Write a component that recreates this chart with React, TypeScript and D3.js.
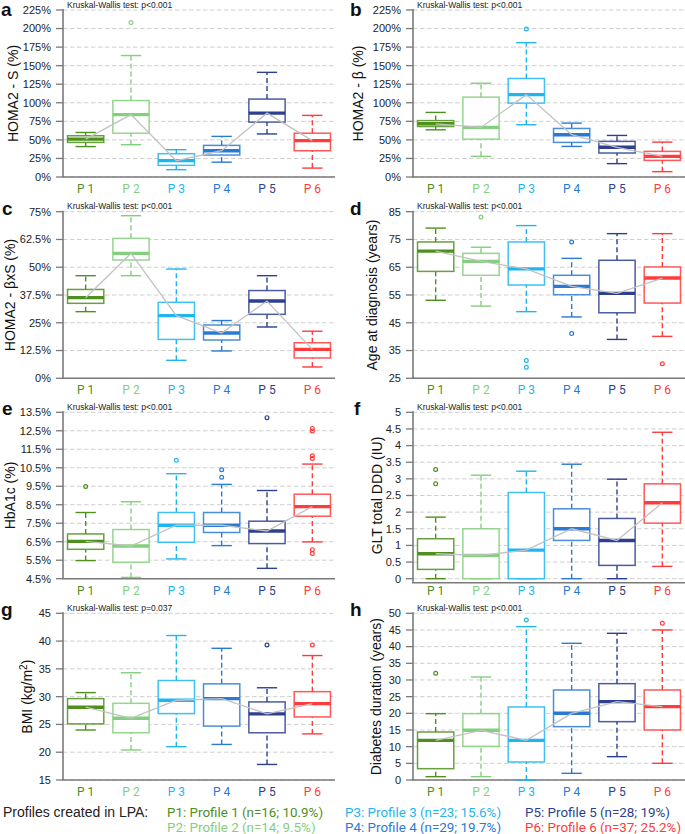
import React from "react";
import * as d3 from "d3";

const categories = ["P 1", "P 2", "P 3", "P 4", "P 5", "P 6"];
const colors = ["#4e8f1d", "#84cf7d", "#1fb5f0", "#2a7ad3", "#2c3f90", "#ff3b3b"];

// [low whisker, q1, median, q3, high whisker]
const homaS = [[41, 46.6, 51, 55.6, 60], [43.5, 59, 84, 103, 163.6], [9.9, 15.7, 22, 31.4, 36.8], [20, 29.6, 35.4, 42.6, 54.7], [58, 74, 86, 105, 141], [12, 35.4, 49, 59, 83]];
const homaSOut = [[], [208], [], [], [], []];
const homaB = [[63.6, 68, 71.7, 76, 87], [27.8, 51, 66.8, 107.6, 126.4], [70.4, 99.5, 111, 132.7, 181], [41.2, 46.6, 57, 65.4, 72.6], [18, 32.3, 40, 48, 56], [7.2, 22.4, 27.8, 34.5, 47]];
const homaBOut = [[], [], [199.5], [], [], []];
const homaBS = [[30, 33.75, 36.3, 40, 46.2], [46.2, 53.25, 56.25, 63, 73.2], [8.1, 17.5, 28.2, 34.2, 49.2], [12.3, 17.25, 20.4, 24, 26], [23.1, 28.8, 34.8, 39.5, 46.2], [5.1, 9.15, 13, 16, 21.2]];
const homaBSOut = [[], [], [], [], [], []];
const ageDx = [[53.1, 63.5, 70.8, 74.1, 79.1], [51, 62.1, 67.1, 70, 72.2], [49, 58.6, 64.4, 74.1, 80], [47.1, 55.1, 58.1, 62.1, 68.2], [39, 48.6, 55.6, 67.5, 77.1], [40.1, 52.1, 61.1, 65.1, 77.1]];
const ageDxOut = [[], [83.1], [31.4, 29], [74.1, 41.1], [], [30.2]];
const hba1c = [[5.48, 6.09, 6.52, 6.92, 8.08], [4.57, 5.39, 6.27, 7.16, 8.66], [5.57, 6.47, 7.39, 8.08, 10.18], [6.29, 7.0, 7.39, 8.08, 9.6], [5.06, 6.4, 7.08, 7.61, 9.27], [6.49, 7.88, 8.4, 9.07, 10.7]];
const hba1cOut = [[9.49], [], [10.9], [10.39, 9.99], [13.21], [12.63, 12.49, 11.15, 11.0, 6.07, 5.86]];
const glt = [[0, 0.28, 0.75, 1.2, 1.85], [0, 0, 0.7, 1.5, 3.11], [0, 0, 0.86, 2.59, 3.23], [0, 1.15, 1.5, 2.1, 3.44], [0, 0.4, 1.15, 1.81, 2.99], [0.37, 1.67, 2.28, 2.85, 4.4]];
const gltOut = [[3.28, 2.85], [], [], [], [], []];
const bmi = [[24.0, 25.1, 28.1, 29.65, 30.73], [20.4, 23.5, 26.1, 28.8, 34.3], [21.0, 26.95, 29.35, 32.9, 41.0], [21.4, 24.7, 29.65, 32.3, 38.7], [17.8, 23.5, 26.9, 29.05, 31.6], [23.3, 26.35, 28.75, 30.9, 37.4]];
const bmiOut = [[], [], [], [], [39.3], [39.3]];
const duration = [[1, 3.4, 11.9, 14.4, 19.9], [1, 10.1, 14.9, 19.9, 30.9], [0, 5.4, 11.9, 21.9, 46], [2, 16, 20, 27, 41], [7, 17.5, 23.5, 28.9, 44], [5, 15, 22, 27, 45]];
const durationOut = [[32], [], [48], [], [], [47]];

const ticksHoma = [0, 25, 50, 75, 100, 125, 150, 175, 200, 225];
const ticksHomaBS = [0, 12.5, 25, 37.5, 50, 62.5, 75];
const ticksAge = [25, 35, 45, 55, 65, 75, 85];
const ticksHba1c = [4.5, 5.5, 6.5, 7.5, 8.5, 9.5, 10.5, 11.5, 12.5, 13.5];
const ticksGlt = [0, 0.5, 1, 1.5, 2, 2.5, 3, 3.5, 4, 4.5, 5];
const ticksBmi = [15, 20, 25, 30, 35, 40, 45];
const ticksDuration = [0, 5, 10, 15, 20, 25, 30, 35, 40, 45, 50];

const kwTexts = ["Kruskal-Wallis test: p<0.001", "Kruskal-Wallis test: p=0.037"];

const legendHead = "Profiles created in LPA:";
const legendItems = [
  "P1: Profile 1 (n=16; 10.9%)",
  "P2: Profile 2 (n=14; 9.5%)",
  "P3: Profile 3 (n=23; 15.6%)",
  "P4: Profile 4 (n=29; 19.7%)",
  "P5: Profile 5 (n=28; 19%)",
  "P6: Profile 6 (n=37; 25.2%)",
];

const TICK_FONT = "'Liberation Sans', Arial, sans-serif";
const P_FONT = "Roboto, 'Noto Sans', sans-serif";

type PanelProps = {
  letter: string;
  letterX: number;
  x0: number;
  x1: number;
  top: number;
  bottom: number;
  pad: number;
  domain: [number, number];
  ticks: number[];
  fmt: (v: number) => string;
  stats: number[][];
  outliers: number[][];
  title: React.ReactNode;
  titleX: number;
  kw: string;
};

function BoxPanel(p: PanelProps) {
  const y = d3.scaleLinear().domain(p.domain).range([p.bottom, p.top]);
  const x = d3
    .scaleBand<string>()
    .domain(categories)
    .range([p.x0, p.x1])
    .paddingInner(0.2)
    .paddingOuter(0.1);
  const bw = x.bandwidth();
  const cx = (i: number) => (x(categories[i]) as number) + bw / 2;
  const medLine = d3
    .line<number[]>()
    .x((_, i) => cx(i))
    .y((d) => y(d[2]));
  const axisY = p.bottom + p.pad;
  return (
    <g>
      {p.ticks.map((t) => (
        <g key={t}>
          <line x1={p.x0} x2={p.x1} y1={y(t)} y2={y(t)} stroke="#cfcfcf" strokeWidth={1} strokeDasharray="4.5,2.5" />
          <line x1={p.x0 - 7} x2={p.x0} y1={y(t)} y2={y(t)} stroke="#7a7a7a" strokeWidth={1.3} />
          <text x={p.x0 - 12} y={y(t)} dy="0.35em" textAnchor="end" fontFamily={TICK_FONT} fontSize={11} fill="#222">
            {p.fmt(t)}
          </text>
        </g>
      ))}
      <line x1={p.x0} x2={p.x0} y1={p.top - 1} y2={axisY} stroke="#7a7a7a" strokeWidth={1.6} />
      <line x1={p.x0 - 1} x2={p.x1} y1={axisY} y2={axisY} stroke="#7a7a7a" strokeWidth={1.6} />
      {p.stats.map((s, i) => {
        const c = colors[i];
        const xl = x(categories[i]) as number;
        const m = cx(i);
        const cap = bw * 0.28;
        return (
          <g key={i}>
            <line x1={m} x2={m} y1={y(s[0])} y2={y(s[1])} stroke={c} strokeWidth={1.4} strokeDasharray="5,3" />
            <line x1={m} x2={m} y1={y(s[3])} y2={y(s[4])} stroke={c} strokeWidth={1.4} strokeDasharray="5,3" />
            <line x1={m - cap} x2={m + cap} y1={y(s[0])} y2={y(s[0])} stroke={c} strokeWidth={1.4} />
            <line x1={m - cap} x2={m + cap} y1={y(s[4])} y2={y(s[4])} stroke={c} strokeWidth={1.4} />
            <rect x={xl} y={y(s[3])} width={bw} height={Math.max(0, y(s[1]) - y(s[3]))} fill="#fff" stroke={c} strokeWidth={1.5} strokeOpacity={0.85} />
            <line x1={xl} x2={xl + bw} y1={y(s[2])} y2={y(s[2])} stroke={c} strokeWidth={3.4} />
            {p.outliers[i].map((o, k) => (
              <circle key={k} cx={m} cy={y(o)} r={1.9} fill="none" stroke={c} strokeWidth={1.2} />
            ))}
          </g>
        );
      })}
      <path d={medLine(p.stats) || ""} fill="none" stroke="#c2c2c2" strokeWidth={1.3} />
      {categories.map((c, i) => (
        <text key={c} x={cx(i)} y={axisY + 16 - p.pad} textAnchor="middle" fontFamily={P_FONT} fontSize={12} fill={colors[i]}>
          {c}
        </text>
      ))}
      <text x={p.letterX} y={Math.max(p.top + 3, 15.5)} fontFamily="'Liberation Sans', Arial, sans-serif" fontWeight="bold" fontSize={19} fill="#111">
        {p.letter}
      </text>
      <text x={p.x0 + 4} y={Math.max(p.top - 2.5, 8)} fontFamily={TICK_FONT} fontSize={8.5} fill="#222">
        {p.kw}
      </text>
      <text
        transform={`translate(${p.titleX},${(p.top + p.bottom) / 2}) rotate(-90)`}
        textAnchor="middle"
        dy="0.35em"
        fontFamily={TICK_FONT}
        fontSize={14}
        fill="#111"
      >
        {p.title}
      </text>
    </g>
  );
}

const pct = (v: number) => `${v}%`;
const pct1 = (v: number) => `${v.toFixed(1)}%`;
const plain = (v: number) => `${v}`;

export default function App() {
  const L0 = 63;
  const L1 = 335;
  const R0 = 413;
  const R1 = 685;
  const tops = [10, 211.7, 412.3, 613.3];
  const bottoms = [177, 378.3, 578.7, 780];
  return (
    <svg width={685} height={834} style={{ position: "absolute", left: 0, top: 0, background: "#fff" }}>
      <BoxPanel letter="a" letterX={1} x0={L0} x1={L1} top={tops[0]} bottom={bottoms[0]} pad={0} domain={[0, 225]} ticks={ticksHoma} fmt={pct} stats={homaS} outliers={homaSOut} title="HOMA2 - S (%)" titleX={13} kw={kwTexts[0]} />
      <BoxPanel letter="b" letterX={350} x0={R0} x1={R1} top={tops[0]} bottom={bottoms[0]} pad={0} domain={[0, 225]} ticks={ticksHoma} fmt={pct} stats={homaB} outliers={homaBOut} title="HOMA2 - β (%)" titleX={358} kw={kwTexts[0]} />
      <BoxPanel letter="c" letterX={2} x0={L0} x1={L1} top={tops[1]} bottom={bottoms[1]} pad={0} domain={[0, 75]} ticks={ticksHomaBS} fmt={pct} stats={homaBS} outliers={homaBSOut} title="HOMA2 - βxS (%)" titleX={10} kw={kwTexts[0]} />
      <BoxPanel letter="d" letterX={350} x0={R0} x1={R1} top={tops[1]} bottom={bottoms[1]} pad={0} domain={[25, 85]} ticks={ticksAge} fmt={plain} stats={ageDx} outliers={ageDxOut} title="Age at diagnosis (years)" titleX={372} kw={kwTexts[0]} />
      <BoxPanel letter="e" letterX={2} x0={L0} x1={L1} top={tops[2]} bottom={bottoms[2]} pad={0} domain={[4.5, 13.5]} ticks={ticksHba1c} fmt={pct1} stats={hba1c} outliers={hba1cOut} title="HbA1c (%)" titleX={10} kw={kwTexts[0]} />
      <BoxPanel letter="f" letterX={354} x0={R0} x1={R1} top={tops[2]} bottom={bottoms[2]} pad={4} domain={[0, 5]} ticks={ticksGlt} fmt={plain} stats={glt} outliers={gltOut} title="GLT total DDD (IU)" titleX={377} kw={kwTexts[0]} />
      <BoxPanel
        letter="g"
        letterX={1}
        x0={L0}
        x1={L1}
        top={tops[3]}
        bottom={bottoms[3]}
        pad={0}
        domain={[15, 45]}
        ticks={ticksBmi}
        fmt={plain}
        stats={bmi}
        outliers={bmiOut}
        title={
          <>
            BMI (kg/m<tspan dy="-5" fontSize={10}>2</tspan>
            <tspan dy="5">)</tspan>
          </>
        }
        titleX={27}
        kw={kwTexts[1]}
      />
      <BoxPanel letter="h" letterX={350} x0={R0} x1={R1} top={tops[3]} bottom={bottoms[3]} pad={0} domain={[0, 50]} ticks={ticksDuration} fmt={plain} stats={duration} outliers={durationOut} title="Diabetes duration (years)" titleX={376} kw={kwTexts[0]} />
      <g>
        <text x={3} y={817} fontSize={14} fill="#222" fontFamily={TICK_FONT}>
          {legendHead}
        </text>
        {legendItems.map((t, i) => (
          <text key={t} x={[167, 345, 525][Math.floor(i / 2)]} y={i % 2 === 0 ? 817 : 832} fontSize={13.4} fill={colors[i]} fontFamily={P_FONT}>
            {t}
          </text>
        ))}
      </g>
    </svg>
  );
}
